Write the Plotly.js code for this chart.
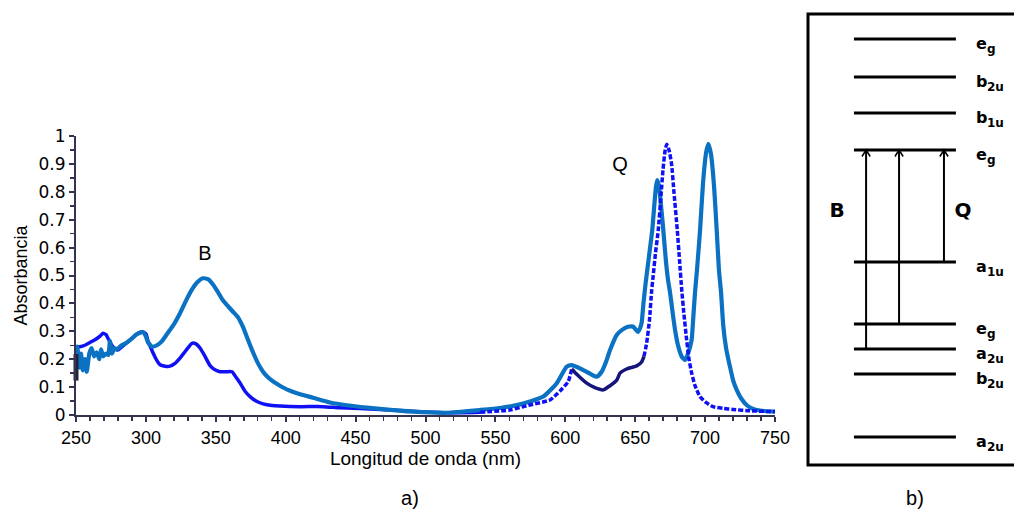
<!DOCTYPE html>
<html>
<head>
<meta charset="utf-8">
<script src="https://cdn.plot.ly/plotly-3.0.1.min.js"></script>
<style>
  html, body { margin: 0; padding: 0; background: #ffffff; }
  #chart { width: 1014px; height: 512px; }
</style>
</head>
<body>
<div id="chart"></div>
<script>
// ---------- Data: panel a) absorption spectra ----------
const wavelengthLight = [250.0,250.9,252.4,253.6,254.8,256.4,257.7,259.5,261.2,262.9,264.8,266.7,267.9,269.5,271.5,273.1,274.3,275.8,277.4,279.1,282.7,286.5,290.1,293.6,297.9,300.1,301.5,304.4,307.9,311.5,315.1,319.4,324.4,328.7,333.0,336.6,340.8,344.4,348.0,351.6,355.2,358.7,362.3,365.9,369.5,373.0,376.6,380.2,383.8,387.3,391.6,395.9,401.6,408.1,419.5,431.7,443.8,467.5,491.1,515.4,539.0,553.3,567.6,574.7,584.3,593.9,601.0,604.6,608.4,612.9,617.7,622.5,626.0,629.1,632.0,636.8,640.6,644.8,648.4,650.6,652.0,653.4,654.6,655.9,657.4,659.9,662.2,663.8,664.9,665.8,667.0,668.5,670.1,672.0,673.5,674.9,676.7,678.5,680.6,683.3,685.6,687.8,690.4,691.3,692.8,694.2,696.4,698.5,700.7,702.3,704.2,706.4,708.3,709.9,711.4,713.0,715.0,717.8,720.0,722.6,725.7,729.7,733.5,739.3,750.0];
const absorbanceLight = [0.22,0.245,0.17,0.22,0.16,0.20,0.155,0.22,0.24,0.21,0.225,0.20,0.235,0.21,0.22,0.215,0.265,0.22,0.24,0.235,0.25,0.26,0.275,0.29,0.297,0.28,0.26,0.245,0.25,0.265,0.29,0.32,0.365,0.41,0.45,0.475,0.49,0.487,0.468,0.44,0.41,0.39,0.37,0.35,0.315,0.27,0.225,0.185,0.155,0.135,0.118,0.105,0.09,0.078,0.062,0.045,0.035,0.022,0.012,0.008,0.018,0.025,0.038,0.048,0.066,0.114,0.173,0.179,0.172,0.161,0.148,0.137,0.155,0.19,0.233,0.287,0.305,0.316,0.317,0.305,0.298,0.31,0.33,0.4,0.47,0.57,0.663,0.76,0.82,0.842,0.82,0.75,0.663,0.55,0.484,0.44,0.37,0.305,0.25,0.209,0.197,0.22,0.27,0.33,0.44,0.52,0.663,0.83,0.94,0.972,0.935,0.82,0.663,0.52,0.44,0.32,0.24,0.173,0.125,0.09,0.06,0.036,0.024,0.016,0.012];

const wavelengthBlue = [250.0,252.9,256.4,260.0,263.6,267.2,269.3,271.5,272.9,275.0,277.2,280.0,282.9,286.5,290.1,293.6,297.9,300.1,301.5,303.6,305.8,307.9,310.1,313.7,317.2,320.8,324.4,328.7,333.0,335.8,338.7,342.3,345.9,349.4,353.0,357.3,361.6,364.5,367.3,370.9,374.5,378.8,383.8,390.2,395.9,410.2,426.7,438.8,467.5,496.1,517.5,539.0,560.4,574.7,589.1,596.2,602.1,604.6,608.4,615.3,621.2,627.2,632.0,636.8,639.1,643.9,647.0,651.1,654.6,656.3,658.2,660.2,661.8,662.9,664.5,666.5,668.5,669.9,671.3,672.5,674.2,676.0,677.7,680.1,681.7,683.3,684.9,686.8,688.5,690.4,692.8,696.3,700.6,705.6,712.8,720.0,732.1,750.0];
const absorbanceBlue = [0.245,0.245,0.25,0.26,0.27,0.283,0.293,0.288,0.275,0.255,0.24,0.233,0.245,0.26,0.275,0.29,0.298,0.29,0.265,0.24,0.215,0.195,0.18,0.175,0.175,0.185,0.204,0.232,0.257,0.255,0.24,0.21,0.177,0.162,0.155,0.155,0.155,0.135,0.115,0.085,0.066,0.05,0.04,0.034,0.032,0.03,0.03,0.026,0.02,0.012,0.008,0.01,0.018,0.036,0.054,0.086,0.12,0.165,0.145,0.114,0.098,0.09,0.105,0.125,0.15,0.165,0.17,0.176,0.19,0.21,0.258,0.34,0.448,0.5,0.58,0.663,0.79,0.88,0.945,0.97,0.95,0.9,0.8,0.663,0.555,0.448,0.36,0.269,0.2,0.15,0.105,0.066,0.045,0.03,0.024,0.02,0.015,0.012];

// segments of the blue curve (wavelength limits, nm)
const blueSolidEnd = 539.0;
const blueNavyStart = 604.6;
const blueNavyEnd = 656.3;

// small dark mark on the axis near 250 nm
const markWavelength = [250];
const markAbsorbance = [0.171];

// tick values
const xTickStart = 250, xTickEnd = 750, xTickStep = 50;
const yTickStep = 0.1;

// band labels of panel a) (position of the label, nm / absorbance)
const bandLabels = ['B', 'Q'];
const bandLabelWavelength = [342.3, 639.1];
const bandLabelAbsorbance = [0.575, 0.893];

// ---------- Data: panel b) energy levels ----------
const levelSymbols = ['a', 'b', 'a', 'e', 'a', 'e', 'b', 'b', 'e'];
const levelSubscripts = ['2u', '2u', '2u', 'g', '1u', 'g', '1u', '2u', 'g'];
const levelEnergies = [0.28, 0.91, 1.16, 1.41, 2.03, 3.15, 3.52, 3.88, 4.26];
const transitionFrom = [2, 3, 4];   // indices into levels
const transitionTo = [5, 5, 5];
const panelCaptions = ['a)', 'b)'];

// ---------- helpers ----------
function segment(xs, ys, lo, hi) {
  const ox = [], oy = [];
  for (let i = 0; i < xs.length; i++) {
    if (xs[i] >= lo && xs[i] <= hi) { ox.push(xs[i]); oy.push(ys[i]); }
  }
  return [ox, oy];
}

const W = 1014, H = 512;
const px = v => v / W;
const py = v => 1 - v / H;

const LIGHT = '#0b72c3';
const BLUE = '#1010f5';
const NAVY = '#14147a';
const AXIS = '#34344e';
const FONT = 'Liberation Sans, Arial, sans-serif';
const BOLD_FONT = 'DejaVu Sans, Liberation Sans, sans-serif';

const solidSeg = segment(wavelengthBlue, absorbanceBlue, 0, blueSolidEnd);
const dash1Seg = segment(wavelengthBlue, absorbanceBlue, blueSolidEnd, blueNavyStart);
const navySeg = segment(wavelengthBlue, absorbanceBlue, blueNavyStart, blueNavyEnd);
const dash2Seg = segment(wavelengthBlue, absorbanceBlue, blueNavyEnd, 1000);

const spline = {shape: 'spline', smoothing: 0.5};
const skip = 'skip';

const traces = [
  {x: solidSeg[0], y: solidSeg[1], mode: 'lines', line: Object.assign({color: BLUE, width: 3.5}, spline), hoverinfo: skip},
  {x: wavelengthLight, y: absorbanceLight, mode: 'lines', line: Object.assign({color: LIGHT, width: 4.2}, spline), hoverinfo: skip},
  {x: dash1Seg[0], y: dash1Seg[1], mode: 'lines', line: Object.assign({color: BLUE, width: 3.5, dash: '5px,2px'}, spline), hoverinfo: skip},
  {x: dash2Seg[0], y: dash2Seg[1], mode: 'lines', line: Object.assign({color: BLUE, width: 3.5, dash: '5px,2px'}, spline), hoverinfo: skip},
  {x: navySeg[0], y: navySeg[1], mode: 'lines', line: Object.assign({color: NAVY, width: 3.5}, spline), hoverinfo: skip},
  {x: markWavelength, y: markAbsorbance, mode: 'markers', cliponaxis: false,
   marker: {symbol: 'line-ns', size: 19, line: {color: '#22223a', width: 5}}, hoverinfo: skip},
  {x: bandLabelWavelength, y: bandLabelAbsorbance, mode: 'text', text: bandLabels,
   textposition: 'middle center', cliponaxis: false,
   textfont: {family: FONT, size: 20, color: '#000'}, hoverinfo: skip}
];

// ---- panel b) ----
const LEVEL_X0 = 0.223, LEVEL_X1 = 0.718;
const LABEL_X = 0.815, LABEL_DROP = 0.06, SUB_DX = 0.054, SUB_DROP = 0.05;
const ARROW_X = [0.282, 0.442, 0.660];
const HEAD_DX = 0.02, HEAD_DY = 0.065;

const lx = [], ly = [];
levelEnergies.forEach(e => { lx.push(LEVEL_X0, LEVEL_X1, null); ly.push(e, e, null); });
traces.push({x: lx, y: ly, xaxis: 'x2', yaxis: 'y2', mode: 'lines',
             line: {color: '#000000', width: 3}, hoverinfo: skip});

// arrow shafts and heads
const sx = [], sy = [], hx = [], hy = [];
transitionFrom.forEach((f, i) => {
  const e0 = levelEnergies[f], e1 = levelEnergies[transitionTo[i]], x = ARROW_X[i];
  sx.push(x, x, null); sy.push(e0, e1, null);
  hx.push(x - HEAD_DX, x, x + HEAD_DX, null); hy.push(e1 - HEAD_DY, e1, e1 - HEAD_DY, null);
});
traces.push({x: sx, y: sy, xaxis: 'x2', yaxis: 'y2', mode: 'lines',
             line: {color: '#000', width: 2}, hoverinfo: skip});
traces.push({x: hx, y: hy, xaxis: 'x2', yaxis: 'y2', mode: 'lines',
             line: {color: '#000', width: 1.5}, hoverinfo: skip});

// level labels: symbol and its subscript
traces.push({x: levelEnergies.map(() => LABEL_X), y: levelEnergies.map(e => e - LABEL_DROP),
             xaxis: 'x2', yaxis: 'y2', mode: 'text', cliponaxis: false,
             text: levelSymbols, textposition: 'middle right',
             textfont: {family: BOLD_FONT, size: 16, weight: 'bold', color: '#000'}, hoverinfo: skip});
traces.push({x: levelEnergies.map(() => LABEL_X + SUB_DX), y: levelEnergies.map(e => e - LABEL_DROP - SUB_DROP),
             xaxis: 'x2', yaxis: 'y2', mode: 'text', cliponaxis: false,
             text: levelSubscripts, textposition: 'middle right',
             textfont: {family: BOLD_FONT, size: 12, weight: 'bold', color: '#000'}, hoverinfo: skip});
// band labels on the diagram (B on the left, Q between arrows)
traces.push({x: [0.141, 0.752], y: [2.53, 2.53], xaxis: 'x2', yaxis: 'y2', mode: 'text',
             cliponaxis: false, text: bandLabels,
             textposition: 'middle center', textfont: {family: BOLD_FONT, size: 20, weight: 'bold', color: '#000'}, hoverinfo: skip});

// panel captions on a full-page overlay axis (pixel units)
traces.push({x: [410, 915], y: [500, 500], xaxis: 'x3', yaxis: 'y3', mode: 'text', cliponaxis: false,
             text: panelCaptions, textposition: 'middle center',
             textfont: {family: FONT, size: 20, color: '#000'}, hoverinfo: skip});

const xTicks = [];
for (let v = xTickStart; v <= xTickEnd; v += xTickStep) xTicks.push(v);

const layout = {
  width: W, height: H,
  margin: {l: 0, r: 0, t: 0, b: 0},
  paper_bgcolor: '#ffffff', plot_bgcolor: 'rgba(0,0,0,0)',
  showlegend: false,
  xaxis: {
    domain: [px(76), px(775)], range: [250, 750], anchor: 'y',
    tickmode: 'array', tickvals: xTicks,
    showgrid: false, zeroline: false,
    showline: true, linecolor: AXIS, linewidth: 2,
    ticks: 'outside', ticklen: 5, tickwidth: 2, tickcolor: AXIS,
    minor: {dtick: 10, ticks: 'outside', ticklen: 4, tickwidth: 1.5, tickcolor: AXIS, showgrid: false},
    tickfont: {family: 'Liberation Sans Narrow, Arial Narrow, Liberation Sans, sans-serif', size: 18, color: '#000'},
    title: {text: 'Longitud de onda (nm)', standoff: 4,
            font: {family: 'Liberation Sans Narrow, Arial Narrow, Liberation Sans, sans-serif', size: 19, color: '#000'}}
  },
  yaxis: {
    domain: [py(415), py(136)], range: [0, 1], anchor: 'x',
    dtick: yTickStep, tick0: 0,
    showgrid: false, zeroline: false,
    showline: true, linecolor: AXIS, linewidth: 2,
    ticks: 'outside', ticklen: 5, tickwidth: 2, tickcolor: AXIS,
    minor: {dtick: 0.05, ticks: 'outside', ticklen: 4, tickwidth: 1.5, tickcolor: AXIS, showgrid: false},
    tickfont: {family: 'DejaVu Sans, sans-serif', size: 17, color: '#000'},
    title: {text: 'Absorbancia', standoff: 6,
            font: {family: FONT, size: 18, color: '#000'}}
  },
  xaxis2: {domain: [px(808), 1], range: [0, 1], anchor: 'y2', visible: false, fixedrange: true},
  yaxis2: {domain: [py(465), py(14)], range: [0, 4.51], anchor: 'x2', visible: false, fixedrange: true},
  xaxis3: {domain: [0, 1], range: [0, W], anchor: 'y3', visible: false, fixedrange: true},
  yaxis3: {domain: [0, 1], range: [H, 0], anchor: 'x3', visible: false, fixedrange: true},
  shapes: [
    {type: 'rect', xref: 'paper', yref: 'paper', x0: px(808), x1: 1.02, y0: py(465), y1: py(14),
     line: {color: '#000', width: 3}, fillcolor: 'rgba(0,0,0,0)'}
  ]
};

Plotly.newPlot('chart', traces, layout, {staticPlot: true, displayModeBar: false});
</script>
</body>
</html>
